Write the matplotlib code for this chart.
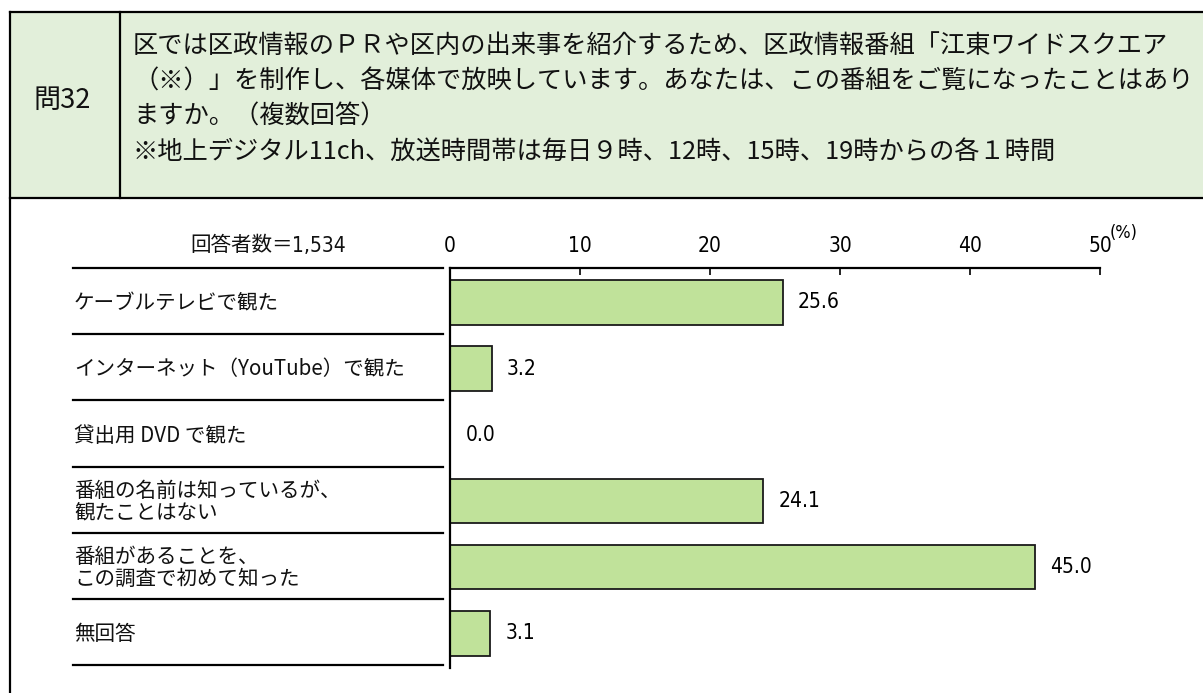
import matplotlib
matplotlib.use('agg')
import matplotlib.pyplot as plt
from matplotlib.patches import Rectangle
from matplotlib.lines import Line2D

# survey question 32: who has seen the ward's TV programme
categories = [
    'ケーブルテレビで観た',
    'インターネット（YouTube）で観た',
    '貸出用 DVD で観た',
    '番組の名前は知っているが、\n観たことはない',
    '番組があることを、\nこの調査で初めて知った',
    '無回答',
]
percent = [25.6, 3.2, 0.0, 24.1, 45.0, 3.1]
xticks = [0, 10, 20, 30, 40, 50]
respondents = '1,534'

question_no = '問32'
question_lines = [
    '区では区政情報のＰＲや区内の出来事を紹介するため、区政情報番組「江東ワイドスクエア',
    '（※）」を制作し、各媒体で放映しています。あなたは、この番組をご覧になったことはあり',
    'ますか。（複数回答）',
    '※地上デジタル11ch、放送時間帯は毎日９時、12時、15時、19時からの各１時間',
]

W, H = 1203, 693
JP = ['Noto Sans CJK JP', 'DejaVu Sans']
NUM = dict(family='DejaVu Sans', stretch='condensed')
BAR = '#c0e29a'
HEAD = '#e2efda'

fig = plt.figure(figsize=(W / 100, H / 100), dpi=100)


def fx(x):
    return x / W


def fy(y):
    return 1 - y / H


def hline(x0, x1, y, lw=1.6):
    fig.add_artist(Line2D([fx(x0), fx(x1)], [fy(y), fy(y)], color='black', lw=lw))


def vline(x, y0, y1, lw=1.6):
    fig.add_artist(Line2D([fx(x), fx(x)], [fy(y0), fy(y1)], color='black', lw=lw))


# header box
fig.add_artist(Rectangle((fx(10), fy(198)), fx(1203) - fx(10), fy(12) - fy(198),
                         transform=fig.transFigure, facecolor=HEAD, edgecolor='none'))
hline(10, 1203, 12)
hline(10, 1203, 198)
vline(10, 12, 693)
vline(120, 12, 198)

fig.text(fx(62), fy(100), question_no, family=JP, fontsize=19.5,
         ha='center', va='center', color='#111')
for i, line in enumerate(question_lines):
    fig.text(fx(133), fy(47 + i * 34.8), line, family=JP, fontsize=18.2,
             ha='left', va='center', color='#111')

# bar area
x0_px, x1_px = 450, 1100
top_px, row_px = 268, 66.2
n = len(categories)
bottom_px = top_px + n * row_px
extra = 3 / row_px
ax = fig.add_axes([fx(x0_px), fy(bottom_px + 3), fx(x1_px) - fx(x0_px),
                   fy(top_px) - fy(bottom_px + 3)])
rows = [i + 0.52 for i in range(n)]
ax.barh(rows, percent, height=0.67, color=BAR, edgecolor='#1a1a1a', linewidth=1.3)
ax.set_xlim(0, 50)
ax.set_ylim(n + extra, 0)
for s in ('right', 'bottom'):
    ax.spines[s].set_visible(False)
for s in ('top', 'left'):
    ax.spines[s].set_linewidth(1.6)
ax.set_yticks([])
ax.xaxis.tick_top()
ax.set_xticks(xticks)
ax.set_xticklabels([str(t) for t in xticks], fontsize=15, **NUM)
ax.tick_params(axis='x', direction='in', length=5, width=1.2, pad=9)
ax.text(1.015, 1.065, '(%)', transform=ax.transAxes, fontsize=13,
        ha='left', va='bottom', **NUM)

for r, v in zip(rows, percent):
    ax.annotate(f'{v:.1f}', (v, r), xytext=(11, 0), textcoords='offset points',
                fontsize=15, ha='left', va='center', **NUM)

# category column with separators
for i in range(n + 1):
    hline(73, 443, top_px + i * row_px, lw=1.6)
for i, cat in enumerate(categories):
    parts = cat.split('\n')
    yc = top_px + (i + 0.5) * row_px + 2
    for j, part in enumerate(parts):
        y = yc + (j - (len(parts) - 1) / 2) * 22
        fig.text(fx(74), fy(y), part, family=JP, fontsize=14.8,
                 ha='left', va='center', color='#111')

fig.text(fx(190), fy(245), '回答者数＝', family=JP, fontsize=14.8,
         ha='left', va='center', color='#111')
fig.text(fx(292), fy(246), respondents, fontsize=15,
         ha='left', va='center', color='#111', **NUM)

fig.savefig('out.png', dpi=100)
